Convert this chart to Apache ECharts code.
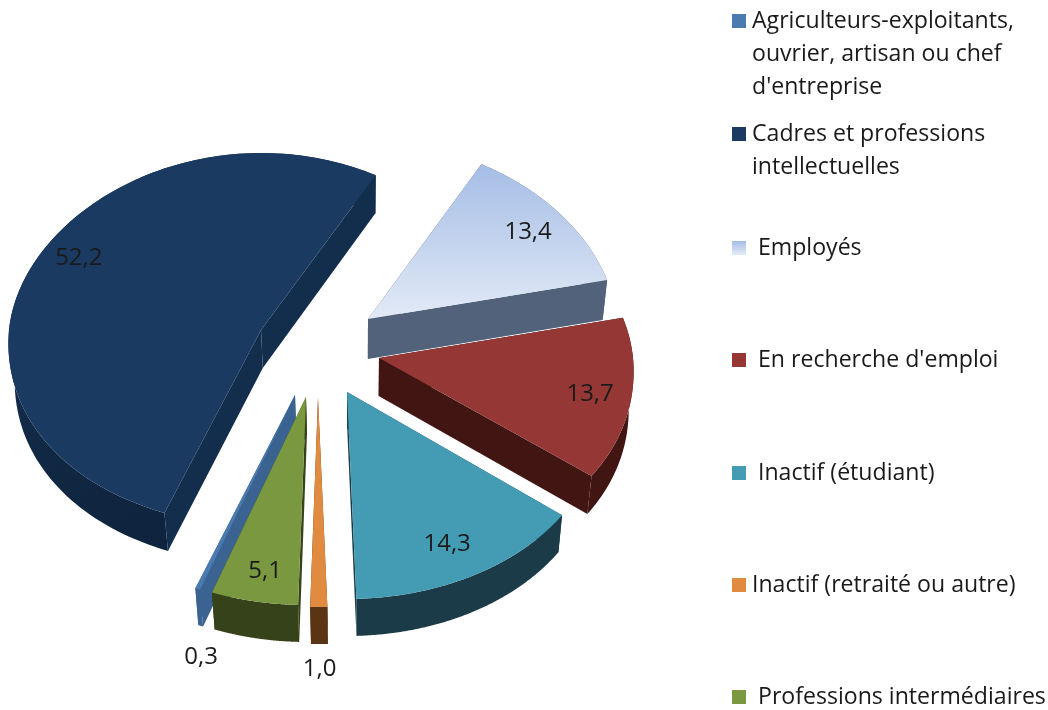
<!DOCTYPE html>
<html>
<head>
<meta charset="utf-8">
<style>html,body{margin:0;padding:0;background:#fff}#chart{width:1048px;height:710px}</style>
<script src="https://cdn.jsdelivr.net/npm/echarts@6/dist/echarts.min.js"></script>
</head>
<body>
<div id="chart"></div>
<script>
var categories = [
  "Agriculteurs-exploitants,\nouvrier, artisan ou chef\nd'entreprise",
  'Cadres et professions\nintellectuelles',
  'Employés',
  "En recherche d'emploi",
  'Inactif (étudiant)',
  'Inactif (retraité ou autre)',
  'Professions intermédiaires'
];
var values = [0.3, 52.2, 13.4, 13.7, 14.3, 1.0, 5.1];

// couleurs : dessus, tranche coupée, paroi extérieure
var topColors = ['#4a7ab0', '#1a3a62', null, '#953735', '#439cb4', '#e08b3f', '#7a983f'];
var cutColors = ['#3a6391', '#132d4d', '#52627a', '#401512', '#1a3b47', '#5a3413', '#36431a'];
var wallColors = ['#3a6391', '#0f2640', '#52627a', '#401512', '#1a3b47', '#5a3413', '#36431a'];

// part éclatée : sommet et rayons de chaque part
var apexX = [295, 261, 368, 379, 347, 318, 306];
var apexY = [395, 330, 319, 358, 392, 398, 397];
var radiusX = [260, 252, 249, 254, 257, 257, 258];
var radiusBack = [177, 177, 177, 182, 205, 205, 205];
var radiusFront = [207, 196, 195, 198, 207, 209, 208];
var depth = [37, 38, 40, 38, 37, 37, 37];
var labelShiftX = [-21, -16, 17, 22, 5, 1, -2];
var labelShiftY = [117, -16, -7, 6, 15, 114, 21];
var drawRank = [5, 1, 2, 3, 4, 7, 6];
var legendCenter = [21, 134, 248, 360, 473, 585, 697];
var legendLines = [3, 2, 1, 1, 1, 1, 1];
var legendPad = [1, 1, 7, 7, 7, 1, 7];

var startAngle = 200;
var perspective = 0.07;
var depthAxis = 360;
var depthShrink = 0.018;
var FONT = '"Open Sans", sans-serif';

function employesGradient() {
  return new echarts.graphic.LinearGradient(0, 0, 0, 1, [
    { offset: 0, color: '#a5bde5' },
    { offset: 1, color: '#e2eaf6' }
  ]);
}

function arcPoint(i, deg, f) {
  var a = deg * Math.PI / 180;
  var c = Math.cos(a);
  var ry = c > 0 ? radiusBack[i] : radiusFront[i];
  return [
    apexX[i] + radiusX[i] * Math.sin(a) * (1 - perspective * c) * f,
    apexY[i] - ry * c * f
  ];
}

function shifted(p, d) {
  return [p[0] + (depthAxis - p[0]) * depthShrink, p[1] + d];
}

function makeRender(i, from, to) {
  return function (params, api) {
    var d = depth[i];
    var arc = [];
    var wall = [];
    for (var n = 0; n <= 120; n++) {
      var p = arcPoint(i, from + (to - from) * n / 120, 1);
      arc.push(p);
      wall.push(p);
    }
    for (var m = arc.length - 1; m >= 0; m--) {
      wall.push(shifted(arc[m], d));
    }
    var apex = [apexX[i], apexY[i]];
    var first = arc[0];
    var last = arc[arc.length - 1];
    var mid = arcPoint(i, (from + to) / 2, 0.75);
    var wallFill = i === 1
      ? new echarts.graphic.LinearGradient(0, 0, 1, 1, [
          { offset: 0, color: '#16314f' },
          { offset: 1, color: '#0b1e36' }
        ])
      : wallColors[i];
    var topFill = i === 2 ? employesGradient() : topColors[i];
    return {
      type: 'group',
      children: [
        { type: 'polygon', shape: { points: wall }, style: { fill: wallFill } },
        { type: 'polygon', shape: { points: [apex, first, shifted(first, d), shifted(apex, d)] }, style: { fill: cutColors[i] } },
        { type: 'polygon', shape: { points: [apex, last, shifted(last, d), shifted(apex, d)] }, style: { fill: cutColors[i] } },
        { type: 'polygon', shape: { points: [apex].concat(arc) }, style: { fill: topFill } },
        {
          type: 'text',
          x: mid[0] + labelShiftX[i],
          y: mid[1] + labelShiftY[i],
          style: {
            text: String(api.value(0).toFixed(1)).replace('.', ','),
            fill: '#1a1a1a',
            font: '24px ' + FONT,
            align: 'center',
            verticalAlign: 'middle'
          }
        }
      ]
    };
  };
}

function blankLines(n) {
  return new Array(n).join('\n');
}

var series = [];
var legends = [];
var angle = startAngle;
values.forEach(function (v, i) {
  var sweep = v * 3.6;
  series.push({
    type: 'custom',
    name: categories[i],
    coordinateSystem: 'none',
    silent: true,
    z: drawRank[i],
    itemStyle: { color: i === 2 ? employesGradient() : topColors[i] },
    data: [[v]],
    renderItem: makeRender(i, angle, angle + sweep)
  });
  angle += sweep;

  // lignes vides au-dessus : le carré reste en face de la première ligne
  var n = legendLines[i];
  legends.push({
    data: [categories[i]],
    selectedMode: false,
    left: 732,
    top: legendCenter[i] - (2 * n - 1) * 33 / 2,
    padding: 0,
    icon: 'rect',
    itemWidth: 14,
    itemHeight: 14,
    formatter: function (name) {
      return blankLines(n) + name;
    },
    textStyle: {
      color: '#1a1a1a',
      fontFamily: FONT,
      fontSize: 23.1,
      lineHeight: 33,
      padding: [0, 0, 0, legendPad[i]]
    }
  });
});

var chart = echarts.init(document.getElementById('chart'), null, { renderer: 'canvas' });
chart.setOption({
  animation: false,
  backgroundColor: '#fff',
  legend: legends,
  series: series
});
</script>
</body>
</html>
